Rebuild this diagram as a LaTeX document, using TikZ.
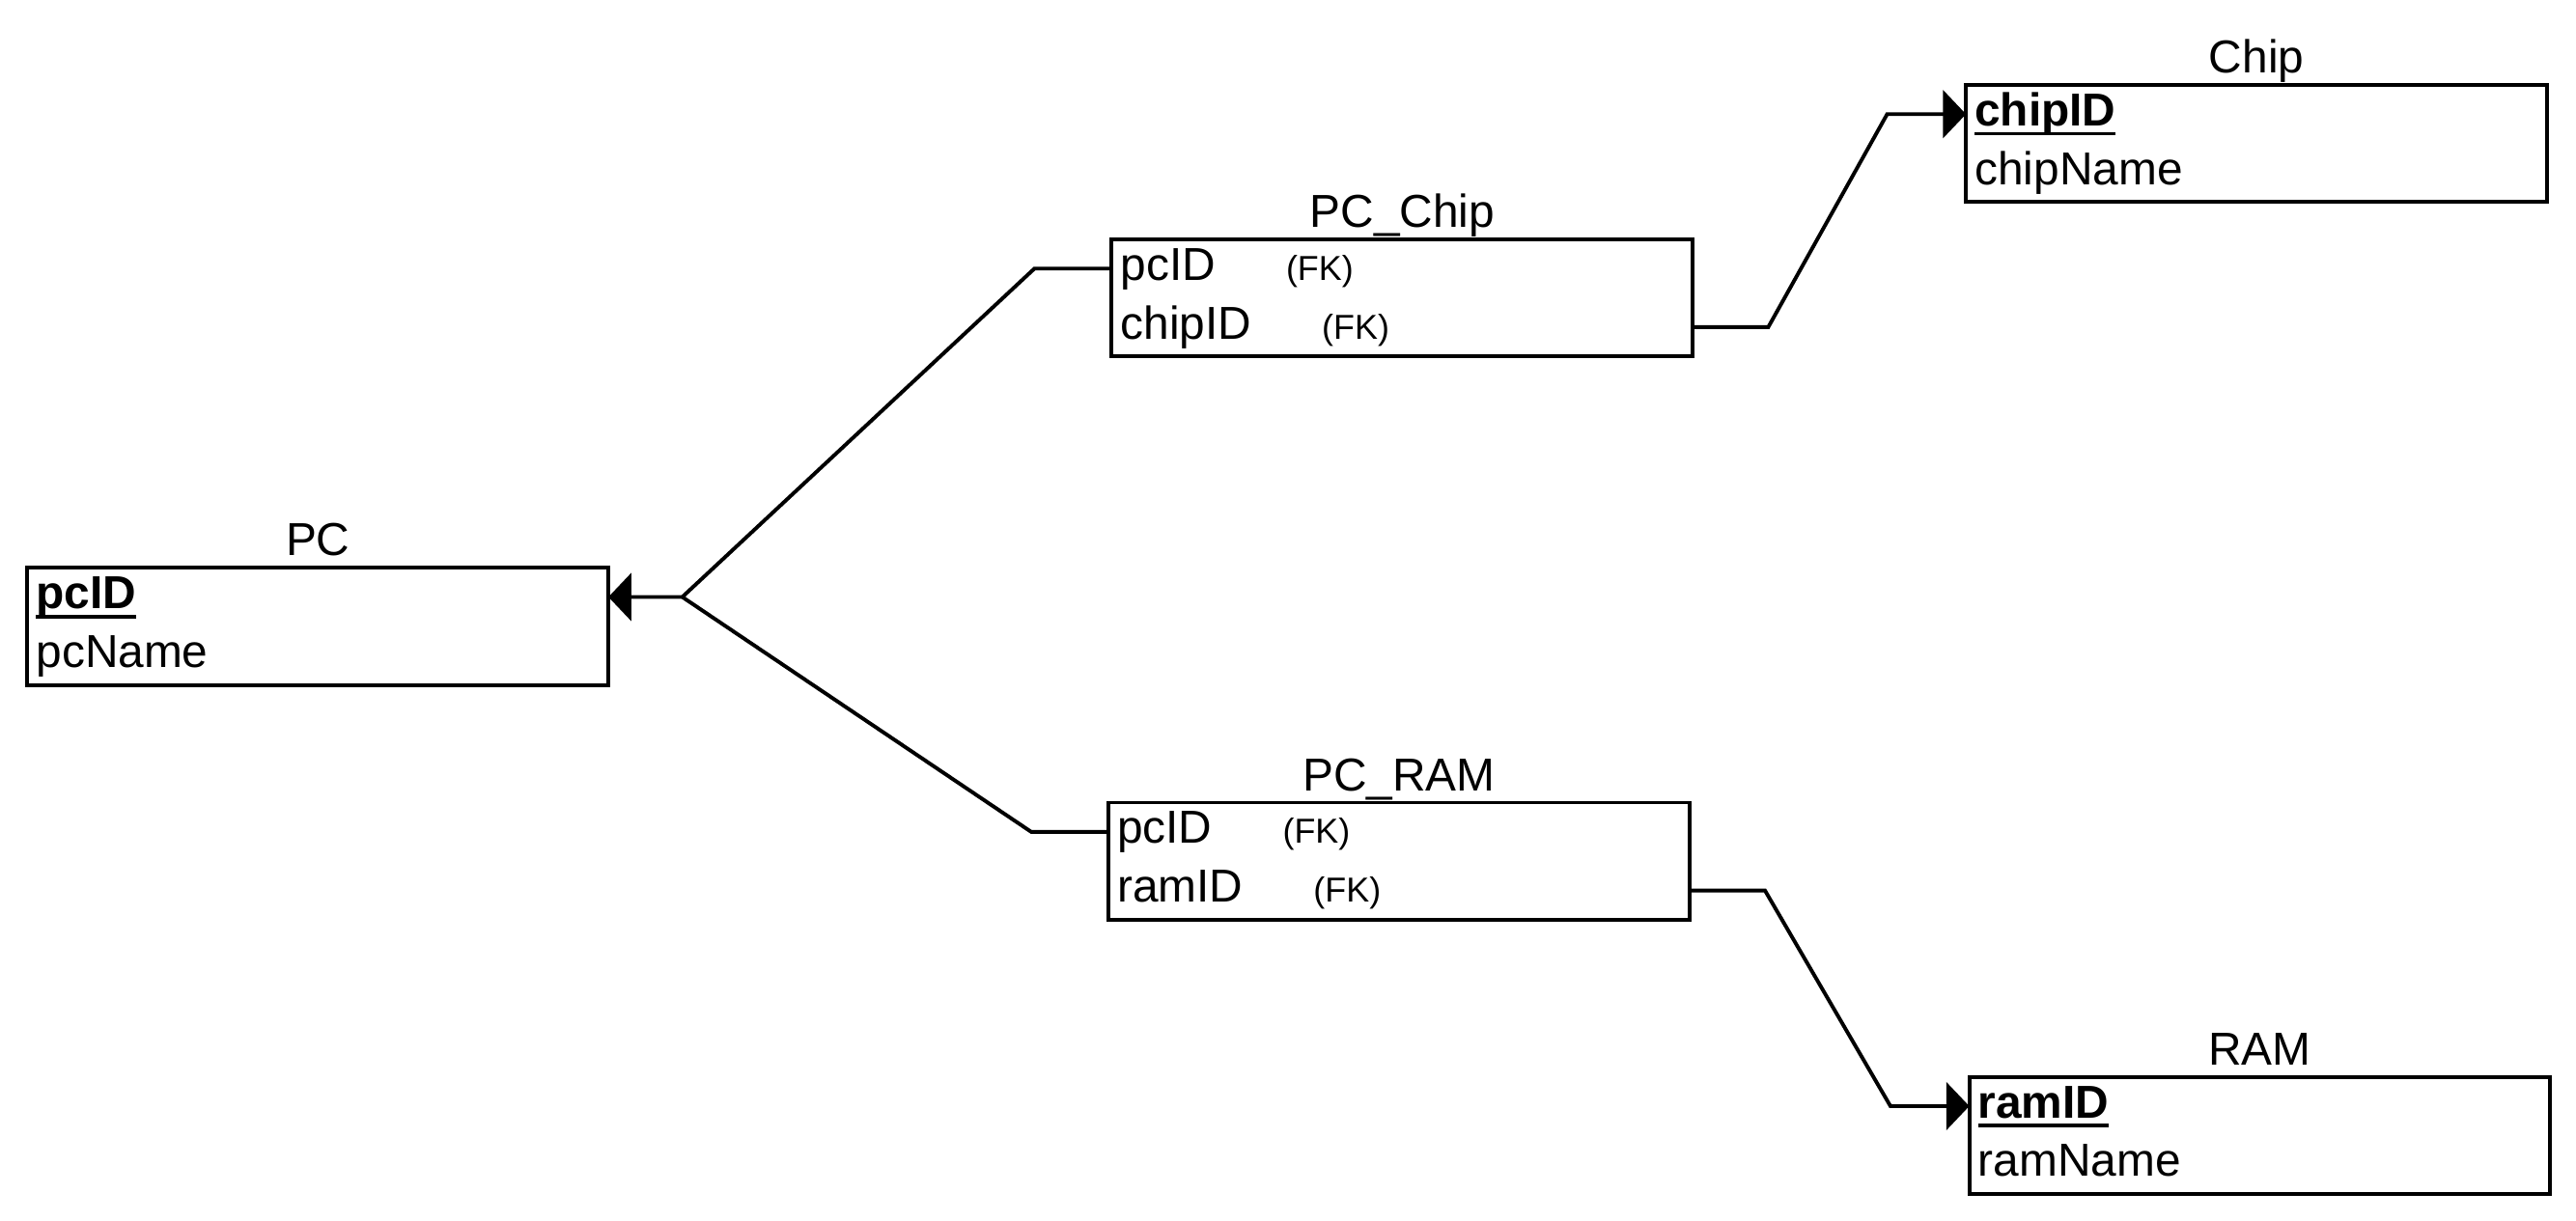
\documentclass[tikz,border=0pt]{standalone}
\usepackage{fontspec}
\setmainfont{Liberation Sans}
\usetikzlibrary{positioning,fit,arrows.meta}

\newcommand{\pkey}[1]{\textbf{\setbox0\hbox{#1}\rlap{\vrule height -0.13em depth 0.21em width \wd0}\box0}}
\newcommand{\fk}{\hspace{0.86cm}{\fontsize{12}{14}\selectfont (FK)}}

\tikzstyle{attr} = [rectangle, minimum width=7.06cm, minimum height=0.7cm, inner xsep=0.1cm, inner ysep=0pt, text width=6.86cm, align=left, font=\fontsize{16}{19}\selectfont, text height=13.2pt, text depth=5.1pt]
\tikzstyle{tablebox} = [draw, line width=1.3pt, inner sep=0pt]
\tikzstyle{tabletitle} = [font=\fontsize{16}{19}\selectfont, inner sep=0pt, anchor=base]
\tikzstyle{relline} = [line width=1.3pt]
\tikzstyle{relation} = [relline, -{Triangle[length=0.28cm,width=0.58cm]}]

\begin{document}
\begin{tikzpicture}[x=0.02cm, y=-0.02cm]
	\useasboundingbox (0,0) rectangle (1568,743);
	% tables
	\node[attr] (pc1) at (193.5,363.5) {\pkey{pcID}};
	\node[attr, below=0pt of pc1] (pc2) {pcName};
	\node[tablebox, fit=(pc1)(pc2)] (pc) {};
	\node[tabletitle] (pctitle) at ([yshift=0.12cm]pc.north) {PC};

	\node[attr] (pcchip1) at (853.5,163.5) {pcID\fk};
	\node[attr, below=0pt of pcchip1] (pcchip2) {chipID\fk};
	\node[tablebox, fit=(pcchip1)(pcchip2)] (pcchip) {};
	\node[tabletitle] (pcchiptitle) at ([yshift=0.12cm]pcchip.north) {PC\_Chip};

	\node[attr] (chip1) at (1373.5,69.5) {\pkey{chipID}};
	\node[attr, below=0pt of chip1] (chip2) {chipName};
	\node[tablebox, fit=(chip1)(chip2)] (chip) {};
	\node[tabletitle] (chiptitle) at ([yshift=0.12cm]chip.north) {Chip};

	\node[attr] (pcram1) at (851.5,506.5) {pcID\fk};
	\node[attr, below=0pt of pcram1] (pcram2) {ramID\fk};
	\node[tablebox, fit=(pcram1)(pcram2)] (pcram) {};
	\node[tabletitle] (pcramtitle) at ([yshift=0.12cm]pcram.north) {PC\_RAM};

	\node[attr] (ram1) at (1375.5,673.5) {\pkey{ramID}};
	\node[attr, below=0pt of ram1] (ram2) {ramName};
	\node[tablebox, fit=(ram1)(ram2)] (ram) {};
	\node[tabletitle] (ramtitle) at ([yshift=0.12cm]ram.north) {RAM};

	% relations
	\coordinate (pcjoin) at ([xshift=0.9cm]pc1.east);
	\draw[relation] (pcchip1.west) -- ++(-47,0) -- (pcjoin) -- (pc1.east);
	\draw[relline] (pcram1.west) -- ++(-47,0) -- (pcjoin);
	\draw[relation] (pcchip2.east) -- ++(46,0) -- ([xshift=-0.96cm]chip1.west) -- (chip1.west);
	\draw[relation] (pcram2.east) -- ++(46,0) -- ([xshift=-0.96cm]ram1.west) -- (ram1.west);
\end{tikzpicture}
\end{document}
